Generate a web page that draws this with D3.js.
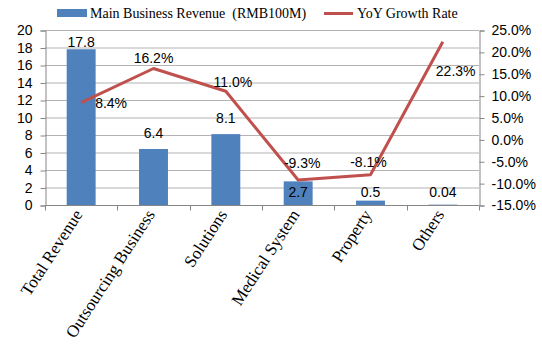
<!DOCTYPE html>
<html>
<head>
<meta charset="utf-8">
<script src="https://cdn.jsdelivr.net/npm/d3@7"></script>
<style>
	body { margin: 0; background: #fff; }
	svg text { fill: #000; }
</style>
</head>
<body>
<div id="chart"></div>
<script>
(function() {
	// chart values
	var categories = ["Total Revenue", "Outsourcing Business", "Solutions", "Medical System", "Property", "Others"];
	var revenue = [17.8, 6.4, 8.1, 2.7, 0.5, 0.04];
	var revenueLabels = ["17.8", "6.4", "8.1", "2.7", "0.5", "0.04"];
	var growth = [8.4, 16.2, 11.0, -9.3, -8.1, 22.3];
	var growthLabels = ["8.4%", "16.2%", "11.0%", "-9.3%", "-8.1%", "22.3%"];
	var leftTicks = [0, 2, 4, 6, 8, 10, 12, 14, 16, 18, 20];
	var rightTicks = [-15, -10, -5, 0, 5, 10, 15, 20, 25];
	var seriesNames = ["Main Business Revenue  (RMB100M)", "YoY Growth Rate"];

	var width = 542;
	var height = 344;
	var left = 45, right = 479, top = 30, bottom = 205;

	var svg = d3.select("#chart")
		.append("svg")
		.attr("width", width)
		.attr("height", height);

	var x = d3.scaleBand()
		.domain(categories)
		.range([left, right])
		.padding(0);
	var y = d3.scaleLinear().domain([0, 20]).range([bottom, top]);
	var y2 = d3.scaleLinear().domain([-15, 25]).range([bottom, top]);

	var sans = "'Liberation Sans', Arial, sans-serif";
	var serif = "'Liberation Serif', 'Times New Roman', serif";

	// gridlines
	svg.append("g")
		.selectAll("line")
		.data(leftTicks.slice(1))
		.enter()
		.append("line")
		.attr("x1", left)
		.attr("x2", right)
		.attr("y1", function(d) { return y(d) + 0.5; })
		.attr("y2", function(d) { return y(d) + 0.5; })
		.attr("stroke", "#b3b3b3")
		.attr("stroke-width", 1);

	// left axis
	var yAxis = d3.axisLeft(y).tickValues(leftTicks).tickSize(5).tickPadding(8);
	var gy = svg.append("g")
		.attr("transform", "translate(" + (left + 0.5) + ",0.5)")
		.call(yAxis);
	gy.selectAll("text").attr("font-family", sans).attr("font-size", "14px").attr("fill", "#000");

	// right axis
	var y2Axis = d3.axisRight(y2).tickValues(rightTicks).tickSize(5).tickPadding(7)
		.tickFormat(function(d) { return d.toFixed(1) + "%"; });
	var gy2 = svg.append("g")
		.attr("transform", "translate(" + (right + 0.5) + ",0.5)")
		.call(y2Axis);
	gy2.selectAll("text").attr("font-family", sans).attr("font-size", "14px").attr("fill", "#000");

	// bottom axis with ticks at category boundaries
	var gx = svg.append("g").attr("transform", "translate(0," + (bottom + 0.5) + ")");
	gx.append("line")
		.attr("x1", left).attr("x2", right)
		.attr("stroke", "#868686");
	gx.selectAll(".tk")
		.data(categories)
		.enter()
		.append("line")
		.attr("class", "tk")
		.attr("x1", function(d) { return Math.round(x(d) + x.bandwidth()) + 0.5; })
		.attr("x2", function(d) { return Math.round(x(d) + x.bandwidth()) + 0.5; })
		.attr("y1", 0).attr("y2", 5)
		.attr("stroke", "#868686");
	gx.append("line")
		.attr("x1", left + 0.5).attr("x2", left + 0.5)
		.attr("y1", 0).attr("y2", 5)
		.attr("stroke", "#868686");

	[gy, gy2].forEach(function(g) {
		g.select(".domain").attr("stroke", "#868686");
		g.selectAll(".tick line").attr("stroke", "#868686");
	});

	// category labels
	gx.selectAll(".cat")
		.data(categories)
		.enter()
		.append("text")
		.attr("class", "cat")
		.attr("font-family", serif)
		.attr("font-size", "17px")
		.attr("text-anchor", "end")
		.attr("transform", function(d) {
			return "translate(" + (x(d) + x.bandwidth() / 2 + 2) + ",9) rotate(-57)";
		})
		.text(function(d) { return d; });

	// bars
	var barW = x.bandwidth() * 0.4;
	svg.append("g")
		.selectAll("rect")
		.data(revenue)
		.enter()
		.append("rect")
		.attr("x", function(d, i) { return x(categories[i]) + (x.bandwidth() - barW) / 2; })
		.attr("y", function(d) { return y(d); })
		.attr("width", barW)
		.attr("height", function(d) { return bottom - y(d); })
		.attr("fill", "#4f81bd");

	// line
	var line = d3.line()
		.x(function(d, i) { return x(categories[i]) + x.bandwidth() / 2; })
		.y(function(d) { return y2(d); });
	svg.append("path")
		.datum(growth)
		.attr("d", line)
		.attr("fill", "none")
		.attr("stroke", "#c0504d")
		.attr("stroke-width", 3)
		.attr("stroke-linejoin", "round");

	// bar labels: above bar, or inside when a growth label is in the way
	svg.append("g")
		.selectAll("text")
		.data(revenue)
		.enter()
		.append("text")
		.attr("font-family", sans)
		.attr("font-size", "14px")
		.attr("text-anchor", "middle")
		.attr("x", function(d, i) { return x(categories[i]) + x.bandwidth() / 2; })
		.attr("y", function(d) {
			if (d < 4) return bottom - 8;
			return Math.max(y(d) - 11, top + 17);
		})
		.text(function(d, i) { return revenueLabels[i]; });

	// growth labels
	var gOff = [[14, 5, "start"], [0, -6, "middle"], [7, -4, "middle"], [4, -12, "middle"], [-2, -8, "middle"], [-7, 34, "start"]];
	svg.append("g")
		.selectAll("text")
		.data(growth)
		.enter()
		.append("text")
		.attr("font-family", sans)
		.attr("font-size", "14px")
		.attr("text-anchor", function(d, i) { return gOff[i][2]; })
		.attr("x", function(d, i) { return x(categories[i]) + x.bandwidth() / 2 + gOff[i][0]; })
		.attr("y", function(d, i) { return y2(d) + gOff[i][1]; })
		.text(function(d, i) { return growthLabels[i]; });

	// legend
	var legend = svg.append("g").attr("font-family", serif).attr("font-size", "14px");
	legend.append("rect")
		.attr("x", 57).attr("y", 9).attr("width", 30).attr("height", 8)
		.attr("fill", "#4f81bd");
	legend.append("text")
		.attr("x", 90).attr("y", 18)
		.style("white-space", "pre")
		.text(seriesNames[0]);
	legend.append("line")
		.attr("x1", 324).attr("x2", 353).attr("y1", 13.5).attr("y2", 13.5)
		.attr("stroke", "#c0504d").attr("stroke-width", 3);
	legend.append("text")
		.attr("x", 357).attr("y", 18)
		.text(seriesNames[1]);
})();
</script>
</body>
</html>
